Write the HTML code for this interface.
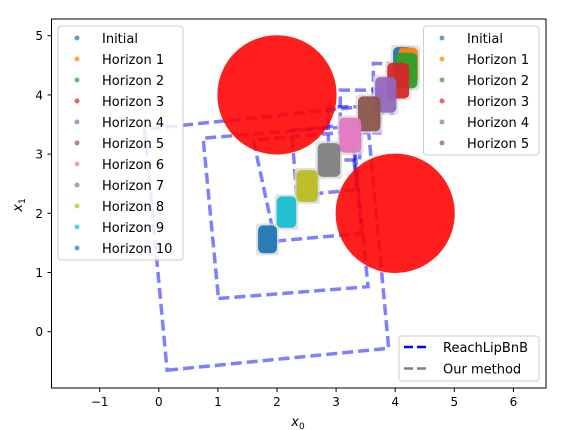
<!DOCTYPE html>
<html><head><meta charset="utf-8"><style>
body{margin:0;background:#fff;}
svg{display:block;font-family:"DejaVu Sans","Liberation Sans",sans-serif;}
</style></head><body>
<svg id="chart" width="578" height="430" viewBox="0 0 578 430">
<rect x="0" y="0" width="578" height="430" fill="#fff"/>
<g id="plot"></g>
<rect x="51.5" y="19" width="494.5" height="369" fill="none" stroke="#000" stroke-width="1"/>
<g id="axes"></g>
<text x="298" y="426" font-size="13" text-anchor="middle" font-style="italic">x<tspan font-size="9" dy="3" font-style="normal">0</tspan></text>
<text transform="translate(22,205) rotate(-90)" font-size="13" text-anchor="middle" font-style="italic">x<tspan font-size="9" dy="3" font-style="normal">1</tspan></text>
<g id="legends"></g>
</svg>
<script>
const xTicks=[-1,0,1,2,3,4,5,6];
const yTicks=[0,1,2,3,4,5];
const obstacleCx=[2,4];
const obstacleCy=[4,2];
const obstacleR=[1,1];
const horizonNames=["Initial","Horizon 1","Horizon 2","Horizon 3","Horizon 4","Horizon 5","Horizon 6","Horizon 7","Horizon 8","Horizon 9","Horizon 10"];
const horizonColors=["#1f77b4","#ff7f0e","#2ca02c","#d62728","#9467bd","#8c564b","#e377c2","#7f7f7f","#bcbd22","#17becf","#1f77b4"];
const setCx=[4.13,4.22,4.19,4.05,3.84,3.56,3.24,2.88,2.51,2.16,1.84];
const setCy=[4.53,4.50,4.41,4.24,4.00,3.68,3.32,2.90,2.46,2.02,1.56];
const setW=[0.33,0.33,0.37,0.37,0.36,0.38,0.37,0.38,0.36,0.33,0.32];
const setH=[0.56,0.6,0.6,0.6,0.6,0.59,0.59,0.57,0.54,0.53,0.47];
// ReachLipBnB boxes: corner x / y lists (BL, BR, TR, TL)
const boxX=[[0.14,3.89,3.51,-0.24],[1.01,3.54,3.28,0.75],[1.97,3.42,3.28,1.60],[2.33,3.35,3.25,2.25],[2.87,3.40,3.40,2.87],[3.07,3.74,3.74,3.07],[3.63,3.96,3.96,3.63]];
const boxY=[[-0.65,-0.28,3.81,3.42],[0.56,0.76,3.47,3.27],[1.53,1.66,3.38,3.24],[2.30,2.40,3.50,3.40],[2.90,2.90,3.80,3.80],[3.36,3.36,4.08,4.08],[3.69,3.69,4.53,4.53]];

const X=v=>158.8+59.1*v, Y=v=>331.7-59.2*v;
const NS="http://www.w3.org/2000/svg";
function mk(tag,attrs,parent){const e=document.createElementNS(NS,tag);for(const k in attrs)e.setAttribute(k,attrs[k]);parent.appendChild(e);return e;}
const plot=document.getElementById('plot'), axes=document.getElementById('axes'), leg=document.getElementById('legends');

// boxes
for(let i=0;i<boxX.length;i++){
  const pts=boxX[i].map((x,j)=>X(x)+","+Y(boxY[i][j])).join(" ");
  const p=mk('polygon',{points:pts,fill:"none",stroke:"#0000ff","stroke-opacity":0.5,"stroke-width":3.5,"stroke-dasharray":"11,5"},plot);
  
  
}
// obstacles
for(let i=0;i<obstacleCx.length;i++){
  const c=mk('ellipse',{cx:X(obstacleCx[i]),cy:Y(obstacleCy[i]),rx:obstacleR[i]*59.1,ry:obstacleR[i]*59.2,fill:"rgb(255,0,0)",stroke:"#ff0000","stroke-width":1,opacity:0.88},plot);
  
  
}
// gray halos (our method)
for(let i=setCx.length-1;i>=0;i--){
  const r=mk('rect',{x:X(setCx[i]-setW[i]/2-0.035),y:Y(setCy[i]+setH[i]/2+0.035),width:(setW[i]+0.07)*59.1,height:(setH[i]+0.07)*59.2,rx:3,fill:"#dadada",opacity:0.8},plot);
  
  
}
// reach sets
for(let i=0;i<setCx.length;i++){
  const r=mk('rect',{x:X(setCx[i]-setW[i]/2),y:Y(setCy[i]+setH[i]/2),width:setW[i]*59.1,height:setH[i]*59.2,rx:5,fill:horizonColors[i],opacity:0.95},plot);
  
  
}
// ticks
xTicks.forEach(t=>{
  const l=mk('line',{x1:X(t),x2:X(t),y1:388,y2:392,stroke:"#000"},axes);
  
  
  const tx=mk('text',{x:X(t),y:406,"font-size":12,"text-anchor":"middle"},axes);
  tx.textContent=t<0?"\u2212"+(-t):t;
  
  
});
yTicks.forEach(t=>{
  const l=mk('line',{x1:47.5,x2:51.5,y1:Y(t),y2:Y(t),stroke:"#000"},axes);
  
  
  const tx=mk('text',{x:43,y:Y(t)+4.5,"font-size":12,"text-anchor":"end"},axes);
  tx.textContent=t;
  
  
});
// legends
function legendBox(x,y,w,h,name){
  const r=mk('rect',{x:x,y:y,width:w,height:h,rx:3,fill:"#fff","fill-opacity":0.85,stroke:"#ccc","stroke-width":1},leg);
  
  
}
function entries(n,mx,tx,y0){
  for(let i=0;i<n;i++){
    const c=mk('circle',{cx:mx,cy:y0+i*21,r:2.5,fill:horizonColors[i],opacity:0.7},leg);
    
    
    const t=mk('text',{x:tx,y:y0+i*21+5,"font-size":13},leg);
    t.textContent=horizonNames[i];
    
    
  }
}
legendBox(58,26,125,234,'left-legend');
entries(11,77,102,38);
legendBox(423.5,26,115.5,129,'right-legend');
entries(6,442,467,38);
legendBox(399,336,140,45,'method-legend');
[[347,"#0000ff","ReachLipBnB"],[368.5,"#808080","Our method"]].forEach(e=>{
  const l=mk('line',{x1:404,x2:430,y1:e[0],y2:e[0],stroke:e[1],"stroke-width":2.5,"stroke-dasharray":"9,4"},leg);
  
  
  const t=mk('text',{x:443,y:e[0]+5,"font-size":13},leg);
  t.textContent=e[2];
  
  
});
</script>
</body></html>
